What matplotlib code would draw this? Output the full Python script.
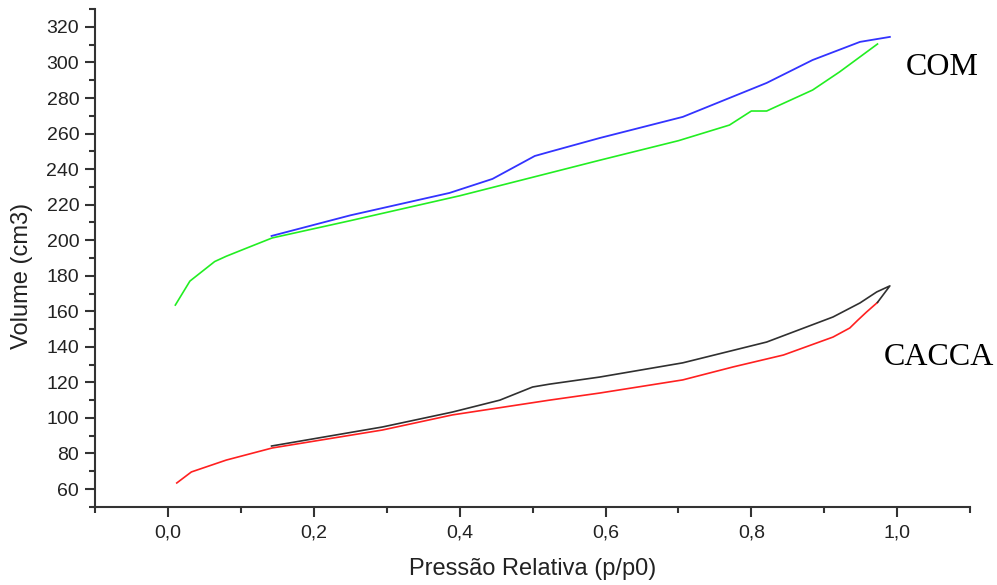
import matplotlib.pyplot as plt
import numpy as np
from matplotlib.ticker import FixedLocator, FuncFormatter

# COM - adsorcao (verde) e dessorcao (azul)
com_ads_x = [0.010, 0.030, 0.064, 0.080, 0.108, 0.143, 0.250, 0.400, 0.523, 0.592, 0.700,
             0.770, 0.800, 0.821, 0.830, 0.884, 0.921, 0.973]
com_ads_y = [163.5, 177.0, 188.0, 191.0, 195.6, 201.3, 211.0, 225.0, 237.8, 245.0, 256.0,
             264.8, 272.7, 272.7, 274.4, 284.5, 294.7, 310.4]
com_des_x = [0.142, 0.250, 0.386, 0.445, 0.503, 0.523, 0.592, 0.706, 0.821, 0.884, 0.949, 0.990]
com_des_y = [202.4, 214.0, 226.6, 234.5, 247.4, 249.7, 257.5, 269.4, 288.5, 301.4, 311.6, 314.4]

# CACCA - adsorcao (vermelho) e dessorcao (preto)
cac_ads_x = [0.012, 0.032, 0.080, 0.143, 0.294, 0.390, 0.523, 0.592, 0.706, 0.775, 0.844,
             0.912, 0.935, 0.946, 0.958, 0.973]
cac_ads_y = [63.4, 69.6, 76.3, 83.1, 93.2, 101.7, 110.0, 114.0, 121.4, 128.7, 135.4,
             145.5, 150.6, 155.0, 159.6, 165.0]
cac_des_x = [0.142, 0.294, 0.390, 0.455, 0.500, 0.523, 0.592, 0.706, 0.821, 0.912, 0.949,
             0.972, 0.990, 0.973]
cac_des_y = [84.2, 94.9, 103.3, 110.0, 117.4, 119.0, 123.0, 131.0, 142.7, 156.8, 164.7,
             170.9, 174.3, 165.0]

x_major = [0.0, 0.2, 0.4, 0.6, 0.8, 1.0]
x_minor = [-0.1, 0.1, 0.3, 0.5, 0.7, 0.9, 1.1]
y_major = list(range(60, 321, 20))
y_minor = list(range(50, 331, 20))

plt.rcParams['font.family'] = ['Liberation Sans', 'DejaVu Sans']

fig = plt.figure(figsize=(9.97, 5.85), dpi=100)
ax = fig.add_axes([0.0954, 0.1337, 0.8776, 0.8506])

ax.plot(com_ads_x, com_ads_y, color='#22ee22', linewidth=1.2)
ax.plot(com_des_x, com_des_y, color='#3333ff', linewidth=1.3)
ax.plot(cac_ads_x, cac_ads_y, color='#ff2020', linewidth=1.2)
ax.plot(cac_des_x, cac_des_y, color='#303030', linewidth=1.2)

ax.set_xlim(-0.1, 1.1)
ax.set_ylim(50, 330)

#eixos: so esquerda e baixo
ax.spines['right'].set_color('none')
ax.spines['top'].set_color('none')
ax.spines['left'].set_linewidth(1.5)
ax.spines['bottom'].set_linewidth(1.5)
ax.spines['left'].set_color('#333333')
ax.spines['bottom'].set_color('#333333')

ax.xaxis.set_major_locator(FixedLocator(x_major))
ax.xaxis.set_minor_locator(FixedLocator(x_minor))
ax.yaxis.set_major_locator(FixedLocator(y_major))
ax.yaxis.set_minor_locator(FixedLocator(y_minor))
ax.xaxis.set_major_formatter(FuncFormatter(lambda v, p: ('%.1f' % v).replace('.', ',')))
ax.tick_params(which='major', direction='out', length=7, width=1.5, color='#333333',
               labelsize=14, labelcolor='#222222')
ax.tick_params(axis='x', which='major', pad=6)
ax.tick_params(axis='y', which='major', pad=4.5)
ax.tick_params(which='minor', direction='out', length=4, width=1.5, color='#333333')

ax.set_xlabel('Pressão Relativa (p/p0)', fontsize=17, color='#222222')
ax.set_ylabel('Volume (cm3)', fontsize=17, color='#222222')
ax.xaxis.set_label_coords(0.5005, -0.103)
ax.yaxis.set_label_coords(-0.071, 0.464)

ax.text(1.062, 297, 'COM', fontsize=23, family='Liberation Serif', ha='center', va='center')
ax.text(0.981, 134, 'CACCA', fontsize=23, family='Liberation Serif', ha='left', va='center')

plt.savefig('out.png', dpi=100)
